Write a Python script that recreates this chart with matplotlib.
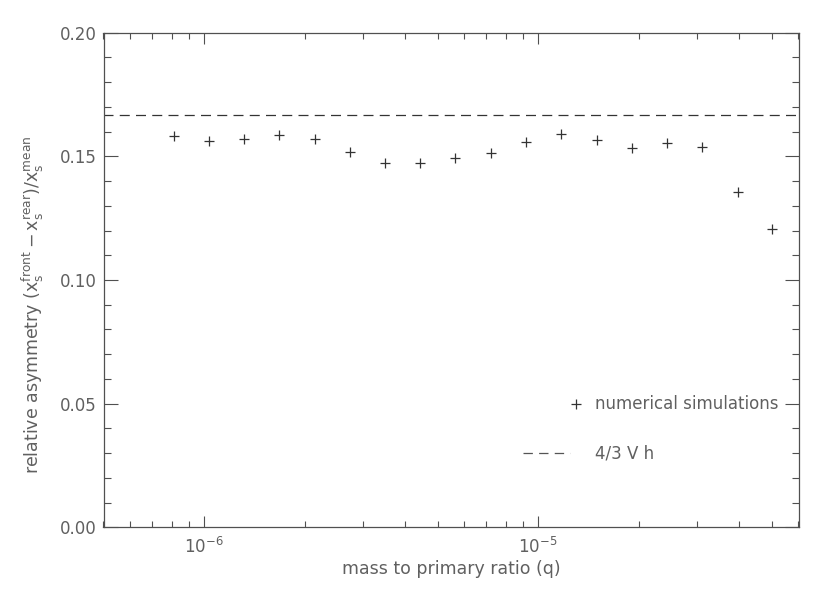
import matplotlib
matplotlib.use('Agg')
import matplotlib.pyplot as plt
from matplotlib.ticker import LogLocator, MultipleLocator, LogFormatterMathtext, NullFormatter

# mass to primary ratio q
q = [8.11e-7, 1.035e-6, 1.321e-6, 1.682e-6, 2.145e-6, 2.731e-6, 3.483e-6,
     4.433e-6, 5.657e-6, 7.203e-6, 9.19e-6, 1.172e-5, 1.496e-5, 1.904e-5,
     2.428e-5, 3.097e-5, 3.954e-5, 5.018e-5]
# relative asymmetry from simulations
asym = [0.1582, 0.1561, 0.1569, 0.1588, 0.1569, 0.1518, 0.1474, 0.1472,
        0.1495, 0.1512, 0.1558, 0.1589, 0.1567, 0.1534, 0.1553, 0.1538,
        0.1355, 0.1205]
theory = 1.0 / 6.0  # 4/3 V h

XMIN, XMAX = 5e-7, 6.04e-5
GRAY = '#505050'
TXT = '#606060'

plt.rcParams['font.family'] = 'DejaVu Sans'
plt.rcParams['mathtext.fontset'] = 'dejavusans'

fig = plt.figure(figsize=(8.3, 5.93), dpi=100)
ax = fig.add_axes([103.5 / 830, 1 - 527.3 / 593, (799 - 103.5) / 830, (527.3 - 32.7) / 593])

ax.plot(q, asym, linestyle='none', marker='+', markersize=7.5, markeredgewidth=0.9, color='#333333')
ax.plot([XMIN, XMAX], [theory, theory], color='#333333', lw=0.9, dashes=(8, 5))

ax.set_xscale('log')
ax.set_xlim(XMIN, XMAX)
ax.set_ylim(0, 0.2)

ax.xaxis.set_major_locator(LogLocator(base=10, numticks=10))
ax.xaxis.set_minor_locator(LogLocator(base=10, subs=range(2, 10), numticks=20))
ax.xaxis.set_major_formatter(LogFormatterMathtext())
ax.xaxis.set_minor_formatter(NullFormatter())
ax.yaxis.set_major_locator(MultipleLocator(0.05))
ax.yaxis.set_minor_locator(MultipleLocator(0.01))
ax.yaxis.set_major_formatter(plt.FuncFormatter(lambda v, p: f'{v:.2f}'))

ax.tick_params(axis='both', which='both', direction='in', top=True, right=True,
               color=GRAY, labelcolor=TXT, labelsize=12, width=0.8)
ax.tick_params(axis='y', which='major', length=10, pad=5)
ax.tick_params(axis='y', which='minor', length=5)
ax.tick_params(axis='x', which='major', length=8, pad=7)
ax.tick_params(axis='x', which='minor', length=4.5)
for s in ax.spines.values():
    s.set_color(GRAY)
    s.set_linewidth(0.9)

ax.set_xlabel('mass to primary ratio (q)', color=TXT, fontsize=12.5, labelpad=2)
ax.set_ylabel(r'relative asymmetry $(\mathregular{x_s^{front}}-\mathregular{x_s^{rear}})/\mathregular{x_s^{mean}}$',
              color=TXT, fontsize=12.5)
ax.yaxis.set_label_coords(-0.082, 0.45)

# legend drawn like the original, in data coordinates
ax.plot([1.30e-5], [0.05], linestyle='none', marker='+', markersize=7.5, markeredgewidth=0.9, color='#333333')
ax.text(1.48e-5, 0.05, 'numerical simulations', color=TXT, fontsize=12, va='center', ha='left')
ax.plot([9.0e-6, 1.25e-5], [0.03, 0.03], color='#555555', lw=0.9, dashes=(7.5, 5))
ax.text(1.48e-5, 0.03, '4/3 V h', color=TXT, fontsize=12, va='center', ha='left')

fig.savefig('out.png', dpi=100)
